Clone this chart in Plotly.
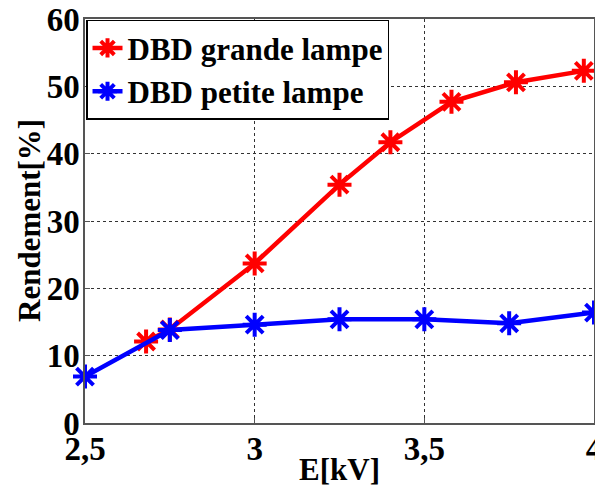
import plotly.graph_objects as go

x_grande = [2.68, 2.75, 3.0, 3.25, 3.4, 3.58, 3.77, 3.97]
y_grande = [12.1, 13.9, 23.7, 35.4, 41.7, 47.7, 50.6, 52.3]
x_petite = [2.5, 2.75, 3.0, 3.25, 3.5, 3.75, 4.0]
y_petite = [6.9, 13.8, 14.6, 15.4, 15.4, 14.8, 16.4]
x_ticks = [2.5, 3.0, 3.5, 4.0]
x_ticklabels = ["2,5", "3", "3,5", "4"]
y_ticks = [0, 10, 20, 30, 40, 50, 60]
x_title = "E[kV]"
y_title = "Rendement[%]"

FONT = "'Times New Roman', 'Liberation Serif', serif"
FS = 31
TFS = 33

fig = go.Figure()
fig.add_trace(go.Scatter(
    x=x_grande, y=y_grande, mode="lines+markers", name="DBD grande lampe",
    line=dict(color="#ff0000", width=4.5),
    marker=dict(symbol="asterisk-open", size=20, color="#ff0000",
                line=dict(color="#ff0000", width=4)),
    cliponaxis=False,
))
fig.add_trace(go.Scatter(
    x=x_petite, y=y_petite, mode="lines+markers", name="DBD petite lampe",
    line=dict(color="#0000ff", width=4.5),
    marker=dict(symbol="asterisk-open", size=20, color="#0000ff",
                line=dict(color="#0000ff", width=4)),
    cliponaxis=False,
))

axis_common = dict(
    showgrid=True, gridcolor="#333333", griddash="dot", gridwidth=1,
    showline=True, linecolor="#555555", linewidth=1.5, mirror=True,
    ticks="inside", ticklen=5, tickcolor="#555555",
    zeroline=False, automargin=False, ticklabeloverflow="allow",
    tickfont=dict(family=FONT, size=TFS, color="black", weight="bold"),
)

title_font = dict(family=FONT, size=FS, color="black", weight="bold")

fig.update_layout(
    width=595, height=484,
    margin=dict(l=77, r=9, t=11, b=69),
    paper_bgcolor="white", plot_bgcolor="white",
    font=dict(family=FONT, color="black"),
    showlegend=True,
    legend=dict(
        x=0.002, y=0.998, xanchor="left", yanchor="top",
        bgcolor="white", bordercolor="black", borderwidth=1.5,
        font=dict(family=FONT, size=FS, color="black", weight="bold"),
        itemwidth=30, tracegroupgap=0,
    ),
    xaxis=dict(
        range=[2.5, 4.0], tickvals=x_ticks, ticktext=x_ticklabels,
        ticklabelstandoff=-4,
        **axis_common,
    ),
    yaxis=dict(
        range=[0, 60], tickvals=y_ticks,
        ticklabelstandoff=-3,
        **axis_common,
    ),
    annotations=[
        dict(text=x_title, xref="paper", yref="paper", x=0.5, y=-0.116,
             xanchor="center", yanchor="middle", showarrow=False, font=title_font),
        dict(text=y_title, xref="paper", yref="paper", x=-0.11, y=0.5,
             xanchor="center", yanchor="middle", textangle=-90, showarrow=False, font=title_font),
    ],
)

fig.write_html("out.html")
